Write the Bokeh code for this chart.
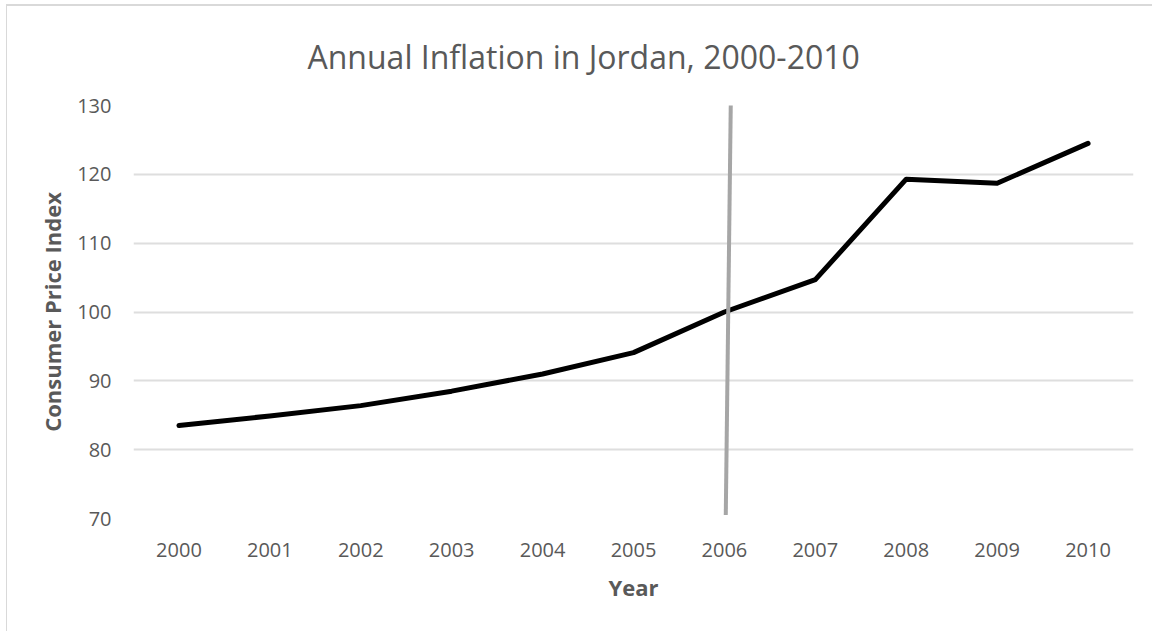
from bokeh.plotting import figure
from bokeh.models import FactorRange, Range1d, FixedTicker, ColumnDataSource
from bokeh.transform import dodge
from bokeh.embed import file_html
from bokeh.resources import INLINE

# Consumer price index for Jordan (2006 = 100)
years = ["2000", "2001", "2002", "2003", "2004", "2005",
         "2006", "2007", "2008", "2009", "2010"]
cpi = [83.5, 84.9, 86.4, 88.5, 91.0, 94.1, 100.0, 104.7, 119.3, 118.7, 124.5]
y_ticks = [70, 80, 90, 100, 110, 120, 130]

# base-year marker line
base_year = ["2006"]
marker_top = [130.3]
marker_bottom = [70.5]

FONT = "Open Sans"
TEXT = "#595959"

p = figure(
    width=1146, height=627,
    x_range=FactorRange(factors=years, range_padding=0),
    y_range=Range1d(70, 130),
    output_backend="svg", toolbar_location=None,
    min_border_left=126, min_border_right=20,
    min_border_top=99, min_border_bottom=115,
    title="Annual Inflation in Jordan, 2000-2010",
)
p.styles = {"margin-left": "6px", "margin-top": "4px",
            "border-left": "1px solid #d9d9d9", "border-top": "2px solid #d9d9d9"}

p.outline_line_color = None
p.background_fill_color = "white"
p.border_fill_color = "white"

p.title.align = "left"
p.title.offset = 174
p.title.vertical_align = "top"
p.title.standoff = 52
p.title.text_font = FONT
p.title.text_font_size = "32px"
p.title.text_font_style = "normal"
p.title.text_color = TEXT

p.xgrid.grid_line_color = None
p.ygrid.grid_line_color = "#dedede"
p.ygrid.grid_line_width = 2
p.yaxis.ticker = FixedTicker(ticks=y_ticks)

for ax in (p.xaxis, p.yaxis):
    ax.axis_line_color = None
    ax.major_tick_line_color = None
    ax.minor_tick_line_color = None
    ax.major_label_text_font = FONT
    ax.major_label_text_font_size = "20px"
    ax.major_label_text_color = TEXT
    ax.axis_label_text_font = FONT
    ax.axis_label_text_font_size = "22px"
    ax.axis_label_text_font_style = "bold"
    ax.axis_label_text_color = TEXT

p.yaxis.axis_label = "Consumer Price Index"
p.yaxis.major_label_standoff = 16
p.yaxis.axis_label_standoff = 7
p.xaxis.axis_label = "Year"
p.xaxis.major_label_standoff = 18
p.xaxis.axis_label_standoff = 12

p.line(years, cpi, line_color="black", line_width=5,
       line_join="round", line_cap="round")

src = ColumnDataSource(dict(year=base_year, top=marker_top, bottom=marker_bottom))
p.segment(x0=dodge("year", 0.07, range=p.x_range), y0="top",
          x1=dodge("year", 0.015, range=p.x_range), y1="bottom",
          source=src, line_color="#a6a6a6", line_width=4)

open("out.html", "w").write(file_html(p, INLINE))
